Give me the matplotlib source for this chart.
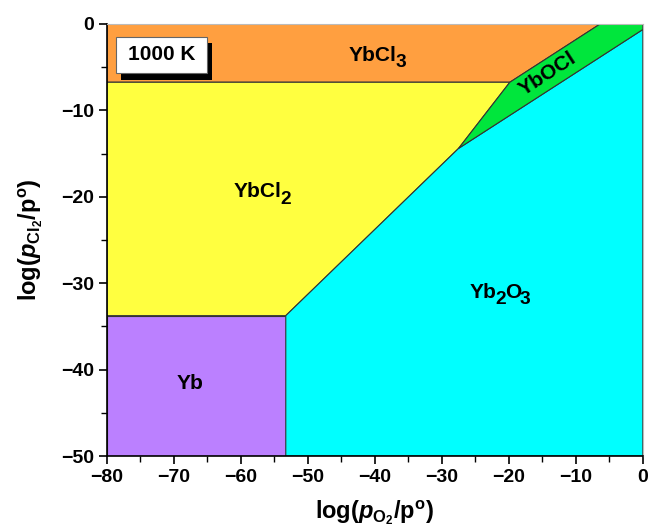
import matplotlib
matplotlib.use("Agg")
import matplotlib.pyplot as plt
from matplotlib.patches import Polygon, Rectangle
from matplotlib.ticker import MultipleLocator, FuncFormatter
from matplotlib.transforms import ScaledTranslation
from matplotlib.font_manager import FontProperties

plt.rcParams['font.family'] = ['Liberation Sans', 'DejaVu Sans']
plt.rcParams['mathtext.fontset'] = 'custom'
plt.rcParams['mathtext.rm'] = 'Liberation Sans:bold'
plt.rcParams['mathtext.it'] = 'Liberation Sans:bold:italic'
plt.rcParams['mathtext.bf'] = 'Liberation Sans:bold'

# Phase-boundary data (log p / p°) at 1000 K
temperature_label = "1000 K"
x_range = [-80, 0]
y_range = [-50, 0]
log_pCl2_Yb_YbCl2 = -33.75      # Yb / YbCl2
log_pCl2_YbCl2_YbCl3 = -6.75    # YbCl2 / YbCl3
log_pO2_Yb_Yb2O3 = -53.3        # Yb / Yb2O3
triple_YbCl2_YbOCl_Yb2O3 = (-27.5, -14.4)
triple_YbCl2_YbCl3_YbOCl = (-19.85, -6.75)
YbCl3_YbOCl_top = (-6.35, 0.0)       # YbCl3 / YbOCl line meets upper edge
YbOCl_Yb2O3_right = (0.0, -0.65)     # YbOCl / Yb2O3 line meets right edge

# phase names as (text, is_subscript) pieces
phase_names = [
    [("YbCl", False), ("3", True)],
    [("YbCl", False), ("2", True)],
    [("Yb", False)],
    [("Yb", False), ("2", True), ("O", False), ("3", True)],
]
phase_colors = ["#FF9F40", "#FFFF40", "#BB80FF", "#00FFFF", "#00E63C"]
label_pos = [(-39.6, -3.4), (-56.8, -19.2), (-67.6, -41.4), (-21.3, -30.8)]
oxychloride_label = "YbOCl"
oxychloride_pos = (-14.3, -5.8)
oxychloride_rot = 33

x0, x1 = x_range
y0, y1 = y_range
tA = triple_YbCl2_YbOCl_Yb2O3
tB = triple_YbCl2_YbCl3_YbOCl

regions = [
    # YbCl3
    [(x0, log_pCl2_YbCl2_YbCl3), tB, YbCl3_YbOCl_top, (x0, y1)],
    # YbCl2
    [(x0, log_pCl2_Yb_YbCl2), (log_pO2_Yb_Yb2O3, log_pCl2_Yb_YbCl2), tA, tB,
     (x0, log_pCl2_YbCl2_YbCl3)],
    # Yb
    [(x0, y0), (log_pO2_Yb_Yb2O3, y0), (log_pO2_Yb_Yb2O3, log_pCl2_Yb_YbCl2),
     (x0, log_pCl2_Yb_YbCl2)],
    # Yb2O3
    [(log_pO2_Yb_Yb2O3, y0), (x1, y0), YbOCl_Yb2O3_right, tA,
     (log_pO2_Yb_Yb2O3, log_pCl2_Yb_YbCl2)],
    # YbOCl
    [tA, YbOCl_Yb2O3_right, (x1, y1), YbCl3_YbOCl_top, tB],
]

fig = plt.figure(figsize=(6.48, 5.31), dpi=100)
ax = fig.add_axes([0.165, 0.141, 0.827, 0.814])
renderer = fig.canvas.get_renderer()


def formula_label(x, y, parts, size=15):
    """Draw a chemical formula with large, lowered subscripts centred at (x, y)."""
    specs, total = [], 0.0
    for i, (s, sub) in enumerate(parts):
        fs = size * 0.92 if sub else size
        prop = FontProperties(family='Liberation Sans', weight='bold', size=fs)
        w, h, d = renderer.get_text_width_height_descent(s, prop, ismath=False)
        w_pt = w * 72.0 / fig.dpi
        if i > 0:
            total -= 0.06 * size   # tighten the join between pieces
        specs.append((s, fs, -0.32 * size if sub else 0.0, total))
        total += w_pt
    for s, fs, dy, start in specs:
        dx_in = (start - total / 2.0) / 72.0
        dy_in = (dy - 0.36 * size) / 72.0
        tr = ax.transData + ScaledTranslation(dx_in, dy_in, fig.dpi_scale_trans)
        ax.text(x, y, s, transform=tr, ha='left', va='baseline', fontsize=fs,
                fontweight='bold', color='black')


for verts, col in zip(regions, phase_colors):
    ax.add_patch(Polygon(verts, closed=True, facecolor=col,
                         edgecolor='#333333', linewidth=0.8))

for parts, (lx, ly) in zip(phase_names, label_pos):
    formula_label(lx, ly, parts)

ax.text(oxychloride_pos[0], oxychloride_pos[1], oxychloride_label,
        ha='center', va='center', rotation=oxychloride_rot,
        rotation_mode='anchor', fontsize=15, fontweight='bold', color='black')

# temperature tag: white box with a black drop shadow
box_x, box_y, box_w, box_h = -78.65, -5.7, 13.6, 4.23
ax.add_patch(Rectangle((box_x + 0.75, box_y - 0.75), box_w, box_h,
                       facecolor='black', edgecolor='none', zorder=4))
ax.add_patch(Rectangle((box_x, box_y), box_w, box_h, facecolor='white',
                       edgecolor='#666666', linewidth=0.8, zorder=5))
ax.text(box_x + box_w / 2, box_y + box_h / 2, temperature_label,
        ha='center', va='center', fontsize=15, fontweight='bold', zorder=6)

ax.set_xlim(x_range)
ax.set_ylim(y_range)
ax.xaxis.set_major_locator(MultipleLocator(10))
ax.xaxis.set_minor_locator(MultipleLocator(5))
ax.yaxis.set_major_locator(MultipleLocator(10))
ax.yaxis.set_minor_locator(MultipleLocator(5))
ax.tick_params(which='major', direction='out', length=6, width=1.2,
               labelsize=14, pad=3)
ax.tick_params(which='minor', direction='out', length=4, width=1.0)
minus_fmt = FuncFormatter(lambda v, p: f"{int(v)}".replace('-', '\u2212'))
ax.xaxis.set_major_formatter(minus_fmt)
ax.yaxis.set_major_formatter(minus_fmt)
for lab in ax.get_xticklabels() + ax.get_yticklabels():
    lab.set_fontweight('bold')

for s in ['left', 'bottom']:
    ax.spines[s].set_linewidth(1.2)
for s in ['top', 'right']:
    ax.spines[s].set_color('#bbbbbb')
    ax.spines[s].set_linewidth(0.8)

ax.set_xlabel(r'log($p_{\mathrm{O_2}}$/p$^{\mathrm{o}}$)', fontsize=17,
              fontweight='bold', labelpad=9)
ax.set_ylabel(r'log($p_{\mathrm{Cl_2}}$/p$^{\mathrm{o}}$)', fontsize=17,
              fontweight='bold', labelpad=12)

fig.savefig('out.png', dpi=100)
